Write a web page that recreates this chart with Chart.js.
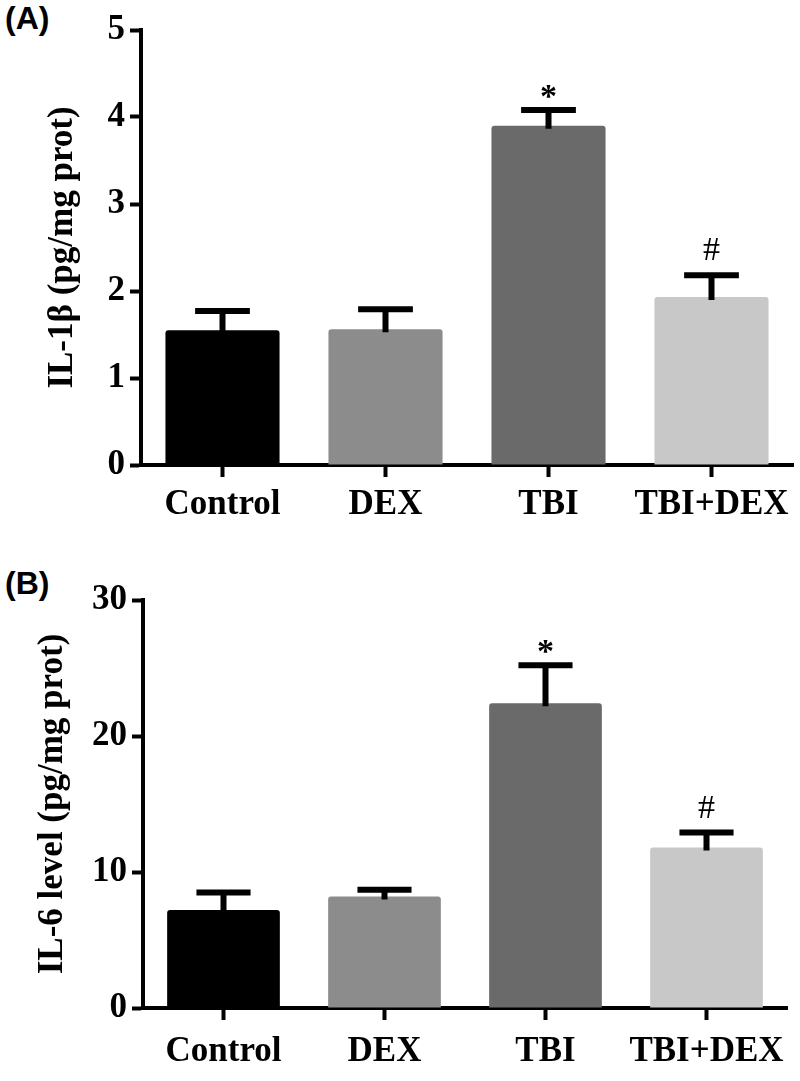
<!DOCTYPE html>
<html>
<head>
<meta charset="utf-8">
<script src="https://cdn.jsdelivr.net/npm/chart.js@4/dist/chart.umd.min.js"></script>
<style>
  body { margin: 0; background: #fff; }
  #wrap { position: relative; width: 800px; height: 1081px; }
  canvas { position: absolute; left: 0; }
  .tag { position: absolute; left: 5px; font: bold 32px 'Liberation Sans', Arial, sans-serif; line-height: 32px; }
</style>
</head>
<body>
<div id="wrap">
  <div class="tag" style="top:2px">(A)</div>
  <canvas id="chartA" width="800" height="540" style="top:0"></canvas>
  <div class="tag" style="top:567px">(B)</div>
  <canvas id="chartB" width="800" height="541" style="top:540px"></canvas>
</div>
<script>
// Datos
const grupos = ['Control', 'DEX', 'TBI', 'TBI+DEX'];
const colores = ['#000000', '#8c8c8c', '#6a6a6a', '#c8c8c8'];

// IL-1β (media y media + error)
const il1b = [1.55, 1.56, 3.90, 1.93];
const il1bSup = [1.77, 1.79, 4.08, 2.18];
const il1bMarcas = ['', '', '*', '#'];

// IL-6 (media y media + error)
const il6 = [7.2, 8.2, 22.4, 11.8];
const il6Sup = [8.5, 8.7, 25.2, 12.9];
const il6Marcas = ['', '', '*', '#'];

const serif = "'Liberation Serif', 'Times New Roman', serif";

// Barras de error (solo hacia arriba) y marcas de significancia
const barrasError = {
  id: 'barrasError',
  afterDatasetsDraw(chart, args, opts) {
    const { ctx, scales: { y } } = chart;
    const meta = chart.getDatasetMeta(0);
    ctx.save();
    ctx.strokeStyle = '#000';
    ctx.fillStyle = '#000';
    ctx.lineWidth = 6;
    meta.data.forEach((bar, i) => {
      const yTop = y.getPixelForValue(opts.sup[i]);
      const half = bar.width * 0.24;
      ctx.beginPath();
      ctx.moveTo(bar.x, bar.y + 3);
      ctx.lineTo(bar.x, yTop);
      ctx.moveTo(bar.x - half, yTop);
      ctx.lineTo(bar.x + half, yTop);
      ctx.stroke();
      const m = opts.marcas[i];
      if (m) {
        ctx.font = (m === '*' ? 'bold ' : '') + '34px ' + serif;
        ctx.textAlign = 'center';
        ctx.textBaseline = 'alphabetic';
        const off = m === '*' ? 0 : 12;
        ctx.fillText(m, bar.x, yTop - 3 - off);
      }
    });
    ctx.restore();
  }
};

function crearGrafico(id, valores, sup, marcas, titulo, maxY, paso, area, tituloPad, etiquetaPad) {
  const canvas = document.getElementById(id);
  return new Chart(canvas.getContext('2d'), {
    type: 'bar',
    data: {
      labels: grupos,
      datasets: [{
        data: valores,
        backgroundColor: colores,
        borderRadius: 3,
        borderSkipped: 'bottom',
        categoryPercentage: 1,
        barPercentage: 0.7
      }]
    },
    options: {
      responsive: false,
      animation: false,
      devicePixelRatio: 1,
      layout: { padding: { left: 0, top: area.top, right: canvas.width - area.right, bottom: 0 } },
      plugins: {
        legend: { display: false },
        tooltip: { enabled: false },
        barrasError: { sup, marcas }
      },
      scales: {
        x: {
          grid: { display: true, offset: false, drawOnChartArea: false, drawTicks: true, tickLength: 12, tickWidth: 4, tickColor: '#000' },
          border: { display: true, color: '#000', width: 4 },
          ticks: { color: '#000', padding: etiquetaPad, autoSkip: false, maxRotation: 0, font: { family: serif, size: 35, weight: 'bold' } },
          afterFit: s => { s.height = canvas.height - area.bottom; }
        },
        y: {
          min: 0,
          max: maxY,
          grid: { display: true, drawOnChartArea: false, drawTicks: true, tickLength: 11, tickWidth: 4, tickColor: '#000' },
          border: { display: true, color: '#000', width: 4 },
          ticks: { stepSize: paso, color: '#000', padding: 5, font: { family: serif, size: 35, weight: 'bold' } },
          title: { display: true, text: titulo, color: '#000', padding: { top: tituloPad, bottom: 0 }, font: { family: serif, size: 35, weight: 'bold' } },
          afterFit: s => { s.width = area.left; }
        }
      }
    },
    plugins: [barrasError]
  });
}

crearGrafico('chartA', il1b, il1bSup, il1bMarcas, 'IL-1β (pg/mg prot)', 5, 1,
  { left: 141, right: 793, top: 30, bottom: 465 }, 42, 7);
crearGrafico('chartB', il6, il6Sup, il6Marcas, 'IL-6 level (pg/mg prot)', 30, 10,
  { left: 143, right: 787, top: 60, bottom: 468 }, 32, 11);
</script>
</body>
</html>
